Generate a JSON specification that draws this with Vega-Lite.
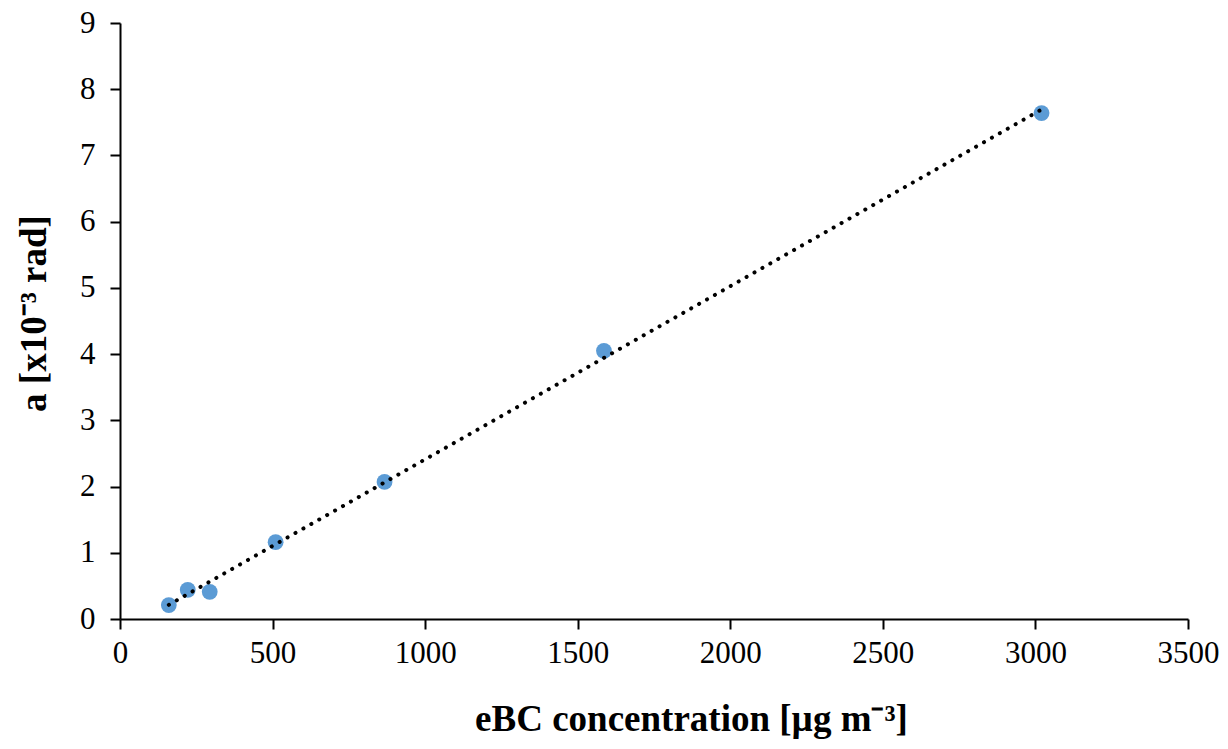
{
  "$schema": "https://vega.github.io/schema/vega-lite/v6.json",
  "autosize": "none",
  "padding": {"left": 120, "top": 23, "right": 40, "bottom": 130},
  "width": 1068,
  "height": 596,
  "background": "white",
  "config": {
    "view": {"stroke": null},
    "font": "Liberation Serif",
    "axis": {
      "grid": false,
      "domainColor": "black",
      "domainWidth": 2,
      "tickColor": "black",
      "tickWidth": 2,
      "tickSize": 10,
      "labelFont": "Liberation Serif",
      "labelFontSize": 31,
      "labelColor": "black",
      "labelFlush": false,
      "labelOverlap": false,
      "titleFont": "Liberation Serif",
      "titleFontSize": 37,
      "titleFontWeight": "bold",
      "titleColor": "black"
    }
  },
  "data": {
    "values": [
      {"ebc": 160, "a": 0.21},
      {"ebc": 222, "a": 0.44},
      {"ebc": 294, "a": 0.41},
      {"ebc": 510, "a": 1.16},
      {"ebc": 867, "a": 2.07},
      {"ebc": 1586, "a": 4.05},
      {"ebc": 3020, "a": 7.64}
    ]
  },
  "encoding": {
    "x": {
      "field": "ebc",
      "type": "quantitative",
      "scale": {"domain": [0, 3500], "nice": false},
      "axis": {"values": [0, 500, 1000, 1500, 2000, 2500, 3000, 3500], "format": "d", "title": "eBC concentration [µg m⁻³]", "labelPadding": 9, "titlePadding": 33, "titleX": 571}
    },
    "y": {
      "field": "a",
      "type": "quantitative",
      "scale": {"domain": [0, 9], "nice": false},
      "axis": {"values": [0, 1, 2, 3, 4, 5, 6, 7, 8, 9], "format": "d", "title": "a [x10⁻³ rad]", "labelPadding": 15, "titlePadding": 26, "titleY": 290}
    }
  },
  "layer": [
    {
      "mark": {"type": "circle", "size": 250, "color": "#5B9BD5", "opacity": 1}
    },
    {
      "transform": [{"regression": "a", "on": "ebc"}],
      "mark": {"type": "line", "color": "black", "strokeWidth": 4, "strokeDash": [0.1, 9], "strokeCap": "round"}
    }
  ]
}
